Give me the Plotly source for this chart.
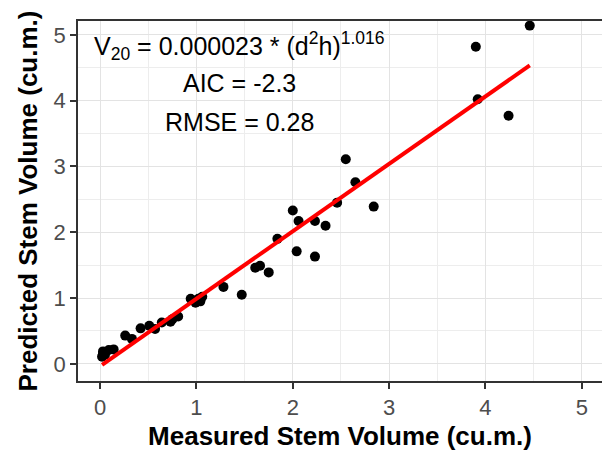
import numpy as np
import plotly.graph_objects as go

measured = [0.02, 0.03, 0.03, 0.05, 0.09, 0.14, 0.26, 0.33, 0.42, 0.51, 0.57, 0.64,
            0.73, 0.75, 0.81, 0.94, 0.99, 1.02, 1.04, 1.06, 1.28, 1.47, 1.61, 1.66,
            1.75, 1.84, 2.00, 2.04, 2.06, 2.23, 2.23, 2.34, 2.46, 2.55, 2.65, 2.84,
            3.90, 3.92, 4.24, 4.46]
predicted = [0.11, 0.16, 0.19, 0.14, 0.21, 0.22, 0.43, 0.38, 0.54, 0.58, 0.53, 0.63,
             0.64, 0.68, 0.72, 0.99, 0.93, 0.99, 0.95, 1.02, 1.17, 1.05, 1.46, 1.49,
             1.39, 1.90, 2.33, 1.71, 2.17, 2.17, 1.63, 2.10, 2.45, 3.11, 2.76, 2.39,
             4.82, 4.02, 3.77, 5.14]

x_ticks = [0, 1, 2, 3, 4, 5]
y_ticks = [0, 1, 2, 3, 4, 5]

ann_lines = ["V<sub>20</sub> = 0.000023 * (d<sup>2</sup>h)<sup>1.016</sup>",
             "AIC = -2.3",
             "RMSE = 0.28"]
ann_y = [4.83, 4.27, 3.68]
ann_x = 1.45

slope, intercept = np.polyfit(measured, predicted, 1)
fit_x = np.array([min(measured), max(measured)])
fit_y = slope * fit_x + intercept

FONT = "Liberation Sans, Arial, sans-serif"

fig = go.Figure()
fig.add_trace(go.Scatter(x=measured, y=predicted, mode="markers",
                         marker=dict(color="black", size=10), showlegend=False))
fig.add_trace(go.Scatter(x=fit_x, y=fit_y, mode="lines",
                         line=dict(color="#FF0000", width=4), showlegend=False))

for txt, yy in zip(ann_lines, ann_y):
    fig.add_annotation(x=ann_x, y=yy, text=txt, showarrow=False,
                       font=dict(family=FONT, size=25, color="black"),
                       xanchor="center", yanchor="middle")

axis_common = dict(
    showgrid=True, gridcolor="#E3E3E3", gridwidth=1.3,
    zeroline=False, showline=True, linecolor="#333333", linewidth=1.5,
    ticks="outside", ticklen=6, tickcolor="#333333", tickwidth=1.5,
    tickfont=dict(family=FONT, size=22, color="#4D4D4D"),
    minor=dict(dtick=0.5, showgrid=True, gridcolor="#EDEDED", gridwidth=0.8, ticks=""),
)

fig.update_layout(
    width=602, height=455,
    margin=dict(l=78, r=0, t=21, b=74),
    paper_bgcolor="white", plot_bgcolor="white",
    font=dict(family=FONT),
    xaxis=dict(range=[-0.23, 5.21], tickvals=x_ticks, mirror=True,
               title=dict(text="<b>Measured Stem Volume (cu.m.)</b>",
                          font=dict(family=FONT, size=26, color="black"), standoff=8),
               **axis_common),
    yaxis=dict(range=[-0.26, 5.21], tickvals=y_ticks,
               title=dict(text="<b>Predicted Stem Volume (cu.m.)</b>",
                          font=dict(family=FONT, size=26, color="black"), standoff=8),
               **axis_common),
)

fig.write_html("out.html")
